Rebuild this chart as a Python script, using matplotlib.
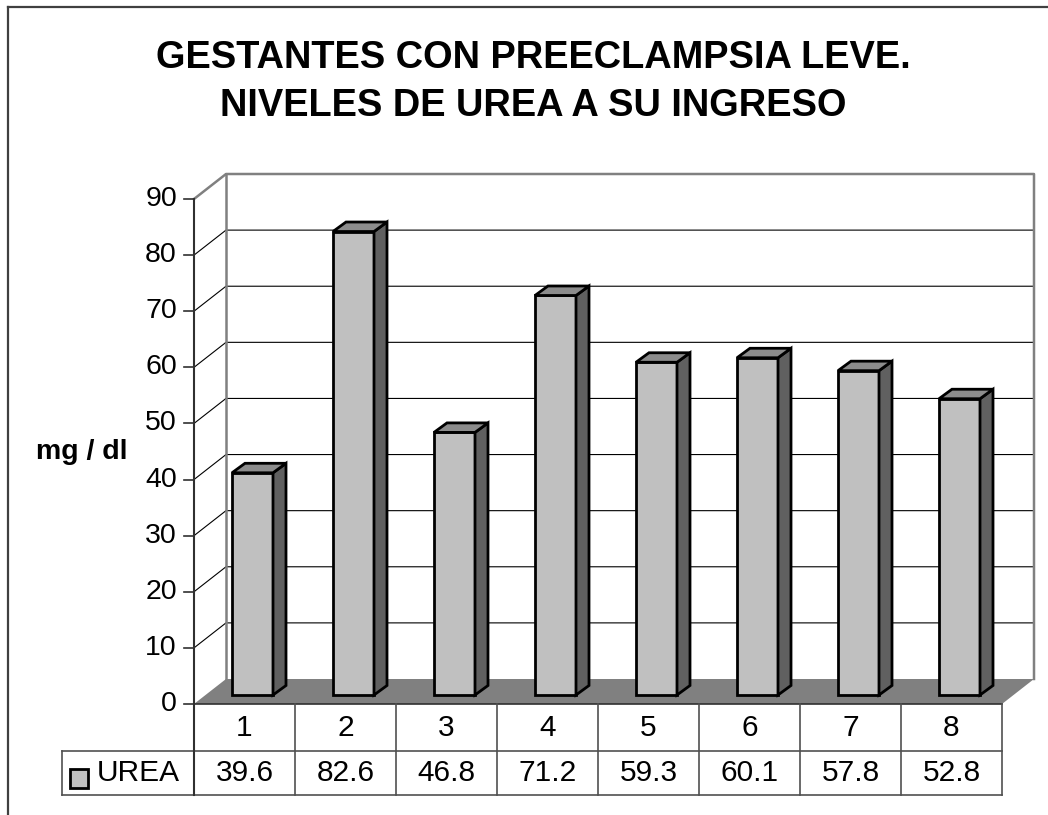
import matplotlib
matplotlib.use('Agg')
import matplotlib.pyplot as plt
from matplotlib.patches import Polygon, Rectangle

# ---- data ----
categories = ['1', '2', '3', '4', '5', '6', '7', '8']
urea = [39.6, 82.6, 46.8, 71.2, 59.3, 60.1, 57.8, 52.8]
value_labels = ['39.6', '82.6', '46.8', '71.2', '59.3', '60.1', '57.8', '52.8']
yticks = [0, 10, 20, 30, 40, 50, 60, 70, 80, 90]
series_name = 'UREA'
title_lines = ['GESTANTES CON PREECLAMPSIA LEVE.', 'NIVELES DE UREA A SU INGRESO']
ylabel = 'mg / dl'

plt.rcParams['font.family'] = ['Liberation Sans', 'DejaVu Sans']

W, H = 1048, 815
fig = plt.figure(figsize=(W / 100, H / 100), dpi=100)
ax = fig.add_axes([0, 0, 1, 1])
ax.axis('off')

# pixel -> data helpers (layout)
X0, Y0 = 194, 704
SX = 101.0
SY = 505.0 / 90.0
def cx(px):
    return (px - X0) / SX - 0.5
def vy(py):
    return (Y0 - py) / SY

ax.set_xlim(cx(0), cx(W))
ax.set_ylim(vy(H), vy(0))

n = len(categories)
xl, xr = -0.5, n - 0.5
ymax = yticks[-1]
DX, DY = 32 / SX, 25 / SY  # depth of the 3D box
WALL = '#808080'
FLOOR = '#808080'
FRONT = '#c0c0c0'
SIDE = '#606060'
TOP = '#8c8c8c'

# back wall
ax.add_patch(Polygon([(xl + DX, DY), (xr + DX, DY), (xr + DX, ymax + DY), (xl + DX, ymax + DY)],
                     closed=True, facecolor='white', edgecolor='none', zorder=1))
# left wall
ax.add_patch(Polygon([(xl, 0), (xl + DX, DY), (xl + DX, ymax + DY), (xl, ymax)],
                     closed=True, facecolor='white', edgecolor='none', zorder=1))
# gridlines
for t in yticks[1:-1]:
    ax.plot([xl, xl + DX, xr + DX], [t, t + DY, t + DY], color='black', lw=0.8, zorder=2)
# wall edges
ax.plot([xl, xl + DX, xr + DX, xr + DX], [ymax, ymax + DY, ymax + DY, DY], color=WALL, lw=1.8, zorder=2)
ax.plot([xl + DX, xl + DX], [DY, ymax + DY], color=WALL, lw=1.8, zorder=2)
# floor
ax.add_patch(Polygon([(xl, 0), (xr, 0), (xr + DX, DY), (xl + DX, DY)],
                     closed=True, facecolor=FLOOR, edgecolor='none', zorder=3))
ax.plot([xl, xr], [0, 0], color='#303030', lw=1.2, zorder=4)

# front value axis
ax.plot([xl, xl], [0, ymax], color='#303030', lw=1.5, zorder=4)
tick_len = 10 / SX
for t in yticks:
    ax.plot([xl - tick_len, xl], [t, t], color='#303030', lw=1.2, zorder=4)
    ax.text(cx(177), t, str(t), ha='right', va='center', fontsize=20.5, color='black')

# bars
bw = 41 / SX
bx_off, by_off = 8 / SX, 9 / SY
bdx, bdy = 13 / SX, 9.5 / SY
for i, v in enumerate(urea):
    x1 = i + bx_off - bw / 2
    x2 = i + bx_off + bw / 2
    y0 = by_off
    y1 = by_off + v
    ax.add_patch(Polygon([(x1, y0), (x2, y0), (x2, y1), (x1, y1)], closed=True,
                         facecolor=FRONT, edgecolor='black', lw=2.0, zorder=5, joinstyle='miter'))
    ax.add_patch(Polygon([(x2, y0), (x2 + bdx, y0 + bdy), (x2 + bdx, y1 + bdy), (x2, y1)], closed=True,
                         facecolor=SIDE, edgecolor='black', lw=2.0, zorder=5, joinstyle='miter'))
    ax.add_patch(Polygon([(x1, y1), (x2, y1), (x2 + bdx, y1 + bdy), (x1 + bdx, y1 + bdy)], closed=True,
                         facecolor=TOP, edgecolor='black', lw=2.0, zorder=5, joinstyle='miter'))

# data table
TL = '#505050'
r1, r2 = vy(751), vy(795)
leg_left = cx(62)
ax.plot([leg_left, xr], [r1, r1], color=TL, lw=1.2, zorder=4)
ax.plot([leg_left, xr], [r2, r2], color=TL, lw=1.2, zorder=4)
ax.plot([leg_left, leg_left], [r1, r2], color=TL, lw=1.2, zorder=4)
ax.plot([xl, xl], [0, r2], color='#303030', lw=1.5, zorder=4)
for k in range(1, n + 1):
    ax.plot([k - 0.5, k - 0.5], [0, r2], color=TL, lw=1.2, zorder=4)
for i, (c, lab) in enumerate(zip(categories, value_labels)):
    ax.text(i, (0 + r1) / 2, c, ha='center', va='center', fontsize=21.5)
    ax.text(i, (r1 + r2) / 2, lab, ha='center', va='center', fontsize=21.5)
# legend key in table
ax.add_patch(Rectangle((cx(70), vy(788)), 18 / SX, 19 / SY, facecolor=FRONT,
                       edgecolor='black', lw=2.0, zorder=5))
ax.text(cx(97), (r1 + r2) / 2, series_name, ha='left', va='center', fontsize=21.5)

# y label
ax.text(cx(82), vy(452), ylabel, ha='center', va='center', fontsize=20.5, fontweight='bold')

# title
fig.text(533 / W, 1 - 68 / H, title_lines[0], ha='center', va='baseline', fontsize=27.4, fontweight='bold')
fig.text(533 / W, 1 - 116 / H, title_lines[1], ha='center', va='baseline', fontsize=27.4, fontweight='bold')

# chart border (top and left)
ax.plot([cx(8), cx(W)], [vy(7), vy(7)], color='#404040', lw=1.6, clip_on=False)
ax.plot([cx(8), cx(8)], [vy(7), vy(H)], color='#404040', lw=1.6, clip_on=False)

fig.savefig('out.png', dpi=100)
